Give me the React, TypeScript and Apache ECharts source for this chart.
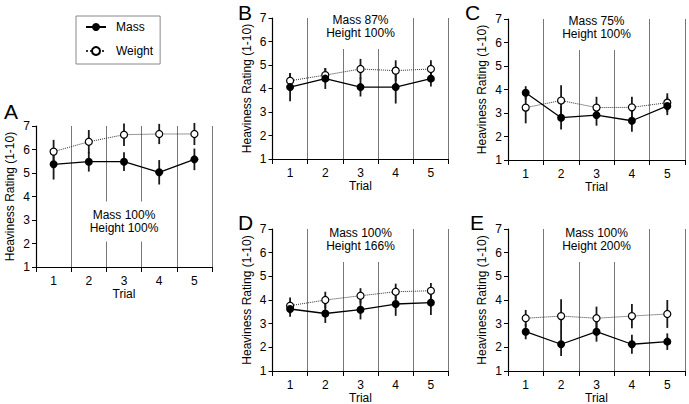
import React, { useEffect, useRef } from 'react';
import * as echarts from 'echarts';

const trials = ['1', '2', '3', '4', '5'];
const seriesNames = ['Mass', 'Weight'];
const panelLetters = ['A', 'B', 'C', 'D', 'E'];
const massLabels = ['Mass 100%', 'Mass 87%', 'Mass 75%', 'Mass 100%', 'Mass 100%'];
const heightLabels = ['Height 100%', 'Height 100%', 'Height 100%', 'Height 166%', 'Height 200%'];

const massA = [5.37, 5.48, 5.48, 5.03, 5.58];
const massErrA = [0.65, 0.42, 0.4, 0.52, 0.46];
const weightA = [5.91, 6.33, 6.63, 6.66, 6.66];
const weightErrA = [0.5, 0.5, 0.48, 0.43, 0.47];

const massB = [4.06, 4.42, 4.06, 4.06, 4.42];
const massErrB = [0.6, 0.44, 0.4, 0.7, 0.33];
const weightB = [4.33, 4.57, 4.83, 4.76, 4.83];
const weightErrB = [0.33, 0.3, 0.43, 0.44, 0.37];

const massC = [3.86, 2.8, 2.91, 2.67, 3.3];
const massErrC = [0.28, 0.5, 0.45, 0.47, 0.39];
const weightC = [3.23, 3.53, 3.23, 3.24, 3.44];
const weightErrC = [0.67, 0.65, 0.46, 0.45, 0.4];

const massD = [3.62, 3.43, 3.59, 3.83, 3.89];
const massErrD = [0.33, 0.4, 0.41, 0.5, 0.52];
const weightD = [3.76, 4.0, 4.18, 4.35, 4.39];
const weightErrD = [0.35, 0.35, 0.32, 0.34, 0.33];

const massE = [2.66, 2.13, 2.66, 2.13, 2.24];
const massErrE = [0.32, 0.5, 0.42, 0.4, 0.35];
const weightE = [3.23, 3.32, 3.23, 3.32, 3.41];
const weightErrE = [0.35, 0.71, 0.49, 0.51, 0.59];

const massAll = [massA, massB, massC, massD, massE];
const massErrAll = [massErrA, massErrB, massErrC, massErrD, massErrE];
const weightAll = [weightA, weightB, weightC, weightD, weightE];
const weightErrAll = [weightErrA, weightErrB, weightErrC, weightErrD, weightErrE];

// layout (pixels)
const layout = [
  { left: 36, top: 126, width: 176, height: 141, textY: 221.5, padB: 8, letterX: 4, letterY: 111.5 },
  { left: 272.5, top: 18, width: 176, height: 141, textY: 26.5, padB: 13, letterX: 238, letterY: 12.5 },
  { left: 508, top: 19, width: 177, height: 141, textY: 27.5, padB: 13, letterX: 465, letterY: 12.5 },
  { left: 272.5, top: 229, width: 176, height: 142, textY: 239.5, padB: 13, letterX: 238, letterY: 222.5 },
  { left: 508, top: 229, width: 177, height: 142, textY: 239.5, padB: 13, letterX: 470, letterY: 222.5 },
];

const FONT = '"Liberation Sans", Arial, Helvetica, sans-serif';

function errorRender(params: any, api: any) {
  const x = api.value(0);
  const lo = api.coord([x, api.value(1)]);
  const hi = api.coord([x, api.value(2)]);
  return {
    type: 'line',
    shape: { x1: lo[0], y1: lo[1], x2: hi[0], y2: hi[1] },
    style: { stroke: '#1a1a1a', lineWidth: 1.8 },
  };
}

export default function App() {
  const ref = useRef<HTMLDivElement>(null);
  useEffect(() => {
    if (!ref.current) return;
    const chart = echarts.init(ref.current, null, { renderer: 'svg' });
    const grids: any[] = [];
    const xAxes: any[] = [];
    const yAxes: any[] = [];
    const series: any[] = [];
    const graphics: any[] = [];
    layout.forEach((g, i) => {
      grids.push({ left: g.left, top: g.top, width: g.width, height: g.height, containLabel: false, outerBoundsMode: 'none' });
      xAxes.push({
        type: 'category',
        gridIndex: i,
        data: trials,
        boundaryGap: true,
        name: 'Trial',
        nameLocation: 'middle',
        nameGap: 20,
        nameTextStyle: { fontFamily: FONT, fontSize: 12, color: '#000' },
        axisLine: { lineStyle: { color: '#000', width: 1.2 } },
        axisTick: { show: true, length: 5, lineStyle: { color: '#000', width: 1 } },
        axisLabel: { fontFamily: FONT, fontSize: 12, color: '#000', margin: 8 },
        splitLine: { show: true, lineStyle: { color: '#777', width: 1 } },
      });
      yAxes.push({
        type: 'value',
        gridIndex: i,
        min: 1,
        max: 7,
        interval: 1,
        name: 'Heaviness Rating (1-10)',
        nameLocation: 'middle',
        nameGap: 20,
        nameTextStyle: { fontFamily: FONT, fontSize: 12, color: '#000' },
        axisLine: { show: true, lineStyle: { color: '#000', width: 1.2 } },
        axisTick: { show: true, length: 4, lineStyle: { color: '#000', width: 1 } },
        axisLabel: { fontFamily: FONT, fontSize: 12, color: '#000', margin: 6 },
        splitLine: { show: false },
      });
      const m = massAll[i];
      const me = massErrAll[i];
      const w = weightAll[i];
      const we = weightErrAll[i];
      series.push({
        type: 'custom',
        name: 'MassErr',
        xAxisIndex: i,
        yAxisIndex: i,
        renderItem: errorRender,
        data: m.map((v, k) => [k, v - me[k], v + me[k]]),
        encode: { x: 0, y: [1, 2] },
        clip: false,
        z: 2,
      });
      series.push({
        type: 'custom',
        name: 'WeightErr',
        xAxisIndex: i,
        yAxisIndex: i,
        renderItem: errorRender,
        data: w.map((v, k) => [k, v - we[k], v + we[k]]),
        encode: { x: 0, y: [1, 2] },
        clip: false,
        z: 2,
      });
      series.push({
        type: 'line',
        name: seriesNames[1],
        xAxisIndex: i,
        yAxisIndex: i,
        data: w,
        symbol: 'circle',
        symbolSize: 7,
        lineStyle: { color: '#333', width: 1, type: 'dotted' },
        itemStyle: { color: '#fff', borderColor: '#000', borderWidth: 1.2 },
        z: 3,
      });
      series.push({
        type: 'line',
        name: seriesNames[0],
        xAxisIndex: i,
        yAxisIndex: i,
        data: m,
        symbol: 'circle',
        symbolSize: 8,
        lineStyle: { color: '#000', width: 1.3 },
        itemStyle: { color: '#000', borderColor: '#000', borderWidth: 0 },
        z: 4,
      });
      graphics.push({
        type: 'text',
        x: g.left + g.width / 2,
        y: g.textY,
        z: 10,
        style: {
          text: massLabels[i] + '\n' + heightLabels[i],
          font: '12px ' + FONT,
          fill: '#000',
          align: 'center',
          verticalAlign: 'middle',
          lineHeight: 13,
          backgroundColor: '#fff',
          padding: [6, 3, g.padB, 3],
        },
      });
      graphics.push({
        type: 'text',
        x: g.letterX,
        y: g.letterY,
        z: 10,
        style: {
          text: panelLetters[i],
          font: '21px ' + FONT,
          fill: '#000',
          align: 'left',
          verticalAlign: 'middle',
        },
      });
    });
    chart.setOption({
      animation: false,
      backgroundColor: '#fff',
      grid: grids,
      xAxis: xAxes,
      yAxis: yAxes,
      series,
      graphic: graphics,
      legend: {
        data: seriesNames,
        orient: 'vertical',
        left: 76,
        top: 16,
        itemWidth: 20,
        itemHeight: 10,
        itemGap: 12,
        padding: [5, 7, 7, 9],
        borderColor: '#888',
        borderWidth: 1,
        textStyle: { fontFamily: FONT, fontSize: 12, color: '#000', padding: [0, 0, 0, 5] },
        selectedMode: false,
      },
    });
    return () => chart.dispose();
  }, []);
  return (
    <div
      ref={ref}
      style={{ position: 'absolute', left: 0, top: 0, width: 689, height: 404, background: '#fff' }}
    />
  );
}
